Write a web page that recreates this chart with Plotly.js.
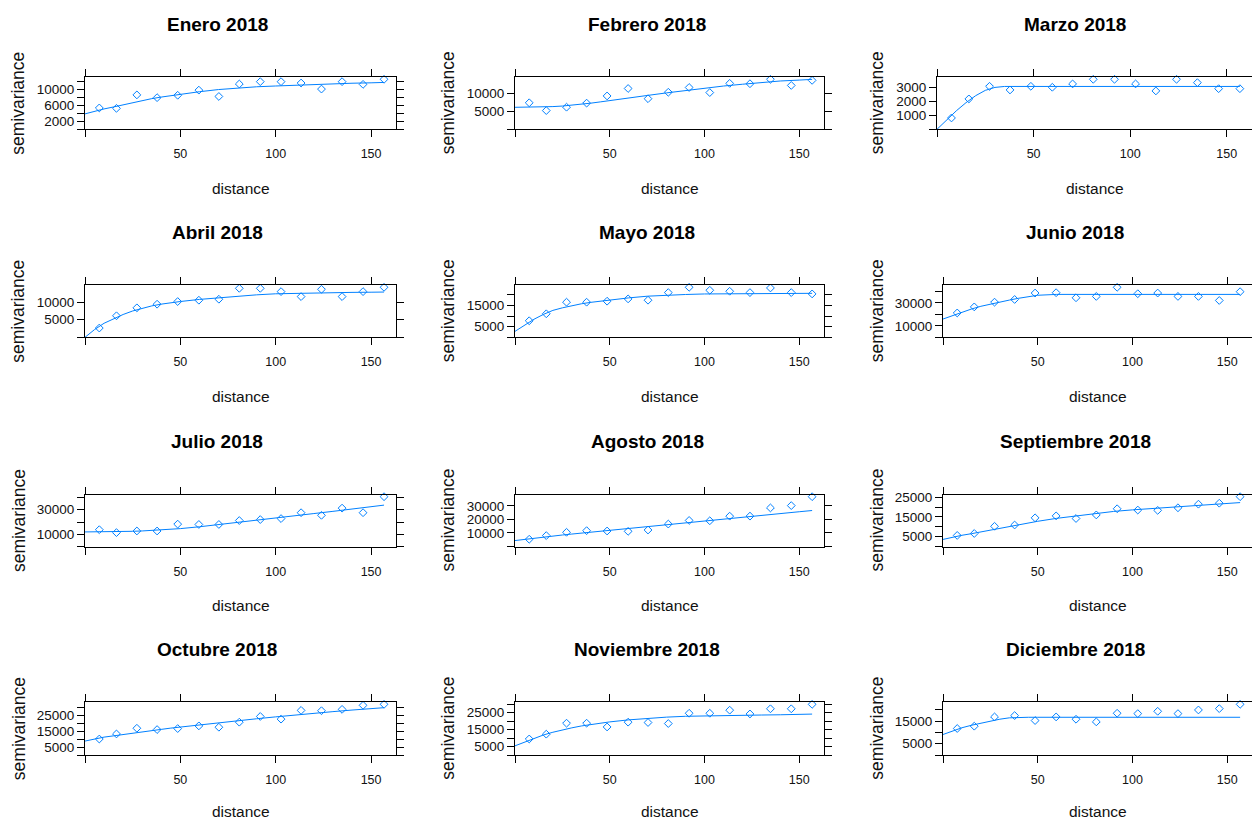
<!DOCTYPE html>
<html><head><meta charset="utf-8">
<script src="https://cdn.plot.ly/plotly-3.0.1.min.js"></script>
<style>html,body{margin:0;padding:0;background:#fff;} #chart{width:1252px;height:821px;}</style>
</head><body><div id="chart"></div>
<script>
// ---------- data ----------
const distance = [7.5, 16.5, 27.2, 37.8, 48.6, 59.7, 70.2, 80.9, 91.9, 102.8, 113.3, 124.0, 134.8, 145.8, 156.8];
const months = ["Enero 2018","Febrero 2018","Marzo 2018","Abril 2018","Mayo 2018","Junio 2018",
                "Julio 2018","Agosto 2018","Septiembre 2018","Octubre 2018","Noviembre 2018","Diciembre 2018"];

const enero      = [5400, 5300, 8700, 8000, 8600, 9900, 8300, 11450, 12040, 12040, 11700, 10170, 12040, 11360, 12640];
const febrero    = [7360, 5190, 6130, 7260, 9250, 11320, 8490, 10280, 11600, 10190, 12740, 12640, 13870, 12170, 13580];
const marzo      = [810, 2170, 3070, 2810, 3070, 3000, 3240, 3570, 3570, 3240, 2740, 3570, 3330, 2900, 2900];
const abril      = [2640, 6130, 8400, 9430, 10190, 10570, 10850, 13960, 13960, 13020, 11600, 13680, 11600, 13020, 14250];
const mayo       = [7810, 11090, 16560, 16560, 17030, 18130, 17500, 21090, 23590, 22190, 21720, 21090, 23280, 21090, 20470];
const junio      = [21180, 26470, 30590, 32940, 38530, 38820, 34410, 35590, 43530, 37940, 38530, 35590, 35590, 32060, 39710];
const julio      = [13730, 11330, 12670, 12670, 18270, 18000, 18000, 21200, 22000, 22800, 27600, 25470, 31330, 27600, 40670];
const agosto     = [5370, 8050, 10490, 11710, 11460, 11220, 12200, 16590, 19270, 19020, 22440, 22440, 28540, 30240, 36830];
const septiembre = [5620, 6610, 10250, 10910, 14550, 15540, 14210, 16030, 19170, 18510, 18350, 19670, 21490, 21980, 25290];
const octubre    = [10100, 13300, 16900, 16060, 16700, 18400, 17550, 20740, 24360, 22660, 28190, 27980, 28830, 31380, 32020];
const noviembre  = [9440, 12270, 18740, 18740, 16520, 19340, 19140, 18530, 24590, 24590, 26410, 24190, 27220, 27220, 29850];
const diciembre  = [11760, 12790, 16910, 17500, 15290, 16910, 15880, 14710, 18530, 18380, 19410, 18380, 20000, 20590, 22500];

// fitted variogram lines, read at these distances
const fitDistance   = [0, 5, 10, 15, 20, 25, 30, 35, 40, 45, 50, 60, 70, 80, 90, 100, 110, 120, 130, 140, 150, 156.8];
const eneroFit      = [3900, 4550, 5150, 5650, 6200, 6750, 7300, 7750, 8150, 8500, 8800, 9500, 10050, 10450, 10750, 10950, 11150, 11350, 11500, 11650, 11750, 11850];
const febreroFit    = [6100, 6120, 6150, 6200, 6300, 6450, 6650, 6900, 7250, 7600, 8000, 8700, 9400, 10100, 10800, 11400, 12000, 12500, 13000, 13400, 13650, 13850];
const marzoFit      = [0, 670, 1320, 1900, 2400, 2780, 2990, 3060, 3060, 3060, 3060, 3060, 3060, 3060, 3060, 3060, 3060, 3060, 3060, 3060, 3060, 3060];
const abrilFit      = [0, 2200, 4000, 5300, 6500, 7500, 8300, 8950, 9450, 9850, 10200, 10800, 11300, 11750, 12100, 12400, 12550, 12650, 12750, 12800, 12850, 12900];
const mayoFit       = [2800, 5800, 8500, 10800, 12700, 13900, 15000, 15800, 16500, 17100, 17600, 18600, 19400, 19900, 20200, 20450, 20550, 20600, 20650, 20700, 20750, 20750];
const junioFit      = [15900, 19000, 22000, 24600, 27000, 29000, 30800, 32400, 34000, 35500, 36600, 37350, 37350, 37350, 37350, 37350, 37350, 37350, 37350, 37350, 37350, 37350];
const julioFit      = [11900, 11900, 11950, 12050, 12150, 12400, 12700, 13100, 13500, 14000, 14600, 16100, 17800, 19600, 21400, 23200, 25000, 26900, 28700, 30500, 32400, 33800];
const agostoFit     = [4400, 5300, 6200, 7000, 7800, 8500, 9200, 9900, 10600, 11300, 12000, 13300, 14600, 16000, 17500, 19000, 20500, 22000, 23300, 24600, 25700, 26600];
const septiembreFit = [3600, 4700, 5700, 6500, 7400, 8300, 9200, 10200, 11200, 12000, 12800, 14300, 15500, 16600, 17800, 18600, 19200, 19800, 20500, 21300, 21900, 22300];
const octubreFit    = [8800, 10100, 11300, 12100, 13000, 13900, 14800, 15500, 16200, 17000, 17700, 19100, 20400, 21700, 22900, 24100, 25300, 26400, 27400, 28400, 29300, 29900];
const noviembreFit  = [5400, 7600, 9800, 11800, 13400, 14800, 16000, 17100, 18000, 18800, 19500, 20700, 21600, 22300, 22800, 23100, 23250, 23400, 23550, 23700, 23900, 24100];
const diciembreFit  = [9100, 10700, 12100, 13200, 14200, 15100, 15900, 16500, 16750, 16750, 16750, 16750, 16750, 16750, 16750, 16750, 16750, 16750, 16750, 16750, 16750, 16750];

// tick labels
const xTickLabels = [50, 100, 150];
const yTickStep   = [2000, 5000, 1000, 5000, 5000, 10000, 10000, 10000, 5000, 5000, 5000, 5000];
const yTickLabels = [[2000,6000,10000],[5000,10000],[1000,2000,3000],[5000,10000],[5000,15000],[10000,30000],
                     [10000,30000],[10000,20000,30000],[5000,15000,25000],[5000,15000,25000],[5000,15000,25000],[5000,15000]];

const gammas = [enero, febrero, marzo, abril, mayo, junio, julio, agosto, septiembre, octubre, noviembre, diciembre];
const fits = [eneroFit, febreroFit, marzoFit, abrilFit, mayoFit, junioFit, julioFit, agostoFit, septiembreFit, octubreFit, noviembreFit, diciembreFit];

// ---------- layout geometry (pixels) ----------
const W = 1252, H = 821;
const boxLeft  = [85, 515, 937, 85, 515, 943, 85, 515, 943, 85, 515, 943];
const colRight = [396, 824, 1252];
const rowTop = [77.3, 285.3, 494.7, 702.3], rowBottom = [129.3, 337.3, 546.5, 755];
const xlabOffset = [59, 59, 59, 56];
const titleX = [217, 647, 1075], ylabX = [18.5, 448, 877];
const blue = '#0080ff';
const FONT = 'Liberation Sans, Arial, sans-serif';

const traces = [], annotations = [];
const layout = {
  width: W, height: H, margin: {l:0, r:0, t:0, b:0},
  paper_bgcolor: '#fff', plot_bgcolor: '#fff', showlegend: false,
  font: {family: FONT, color: '#000'}
};
const px = v => v / W, py = v => 1 - v / H;
const xMax = 1.04 * Math.max(...distance);

for (let i = 0; i < 12; i++) {
  const r = Math.floor(i / 3), c = i % 3;
  const xa = i === 0 ? 'x' : 'x' + (i + 1), ya = i === 0 ? 'y' : 'y' + (i + 1);
  const xk = i === 0 ? 'xaxis' : 'xaxis' + (i + 1), yk = i === 0 ? 'yaxis' : 'yaxis' + (i + 1);
  const L = boxLeft[i], R = colRight[c], T = rowTop[r], B = rowBottom[r];
  const yMax = 1.04 * Math.max(...gammas[i]);
  const yv = [];
  for (let v = 0; v <= yMax; v += yTickStep[i]) yv.push(v);
  const yt = yv.map(v => yTickLabels[i].includes(v) ? String(v) : '');
  const axCommon = {
    showline: true, linecolor: '#000', linewidth: 1, mirror: 'ticks',
    ticks: 'outside', ticklen: 7, tickwidth: 1, tickcolor: '#000',
    showgrid: false, zeroline: false, fixedrange: true
  };
  layout[xk] = Object.assign({}, axCommon, {
    domain: [px(L), px(R)], anchor: ya, range: [0, xMax],
    tickmode: 'array', tickvals: [0].concat(xTickLabels), ticktext: [''].concat(xTickLabels.map(String)),
    tickfont: {size: 12.5, color: '#111'}, ticklabelstandoff: 6
  });
  layout[yk] = Object.assign({}, axCommon, {
    domain: [py(B), py(T)], anchor: xa, range: [0, yMax],
    tickmode: 'array', tickvals: yv, ticktext: yt,
    tickfont: {size: 13.5, color: '#111'}
  });
  traces.push({
    x: fitDistance, y: fits[i], xaxis: xa, yaxis: ya, type: 'scatter', mode: 'lines',
    line: {color: blue, width: 1}, hoverinfo: 'skip', cliponaxis: true
  });
  traces.push({
    x: distance, y: gammas[i], xaxis: xa, yaxis: ya, type: 'scatter', mode: 'markers',
    marker: {symbol: 'diamond-open', size: 6, color: blue, line: {width: 1, color: blue}},
    cliponaxis: false
  });
  annotations.push({text: '<b>' + months[i] + '</b>', xref: 'paper', yref: 'paper',
    x: px(titleX[c]), y: py(T - 53), xanchor: 'center', yanchor: 'middle', showarrow: false,
    font: {size: 19, family: FONT, color: '#000'}});
  annotations.push({text: 'distance', xref: 'paper', yref: 'paper',
    x: px((L + R) / 2), y: py(B + xlabOffset[r]), xanchor: 'center', yanchor: 'middle', showarrow: false,
    font: {size: 15.5, family: FONT, color: '#111'}});
  annotations.push({text: 'semivariance', xref: 'paper', yref: 'paper', textangle: -90,
    x: px(ylabX[c]), y: py((T + B) / 2), xanchor: 'center', yanchor: 'middle', showarrow: false,
    font: {size: 17.5, family: FONT, color: '#111'}});
}
layout.annotations = annotations;
Plotly.newPlot('chart', traces, layout, {displayModeBar: false, staticPlot: true});
</script></body></html>
